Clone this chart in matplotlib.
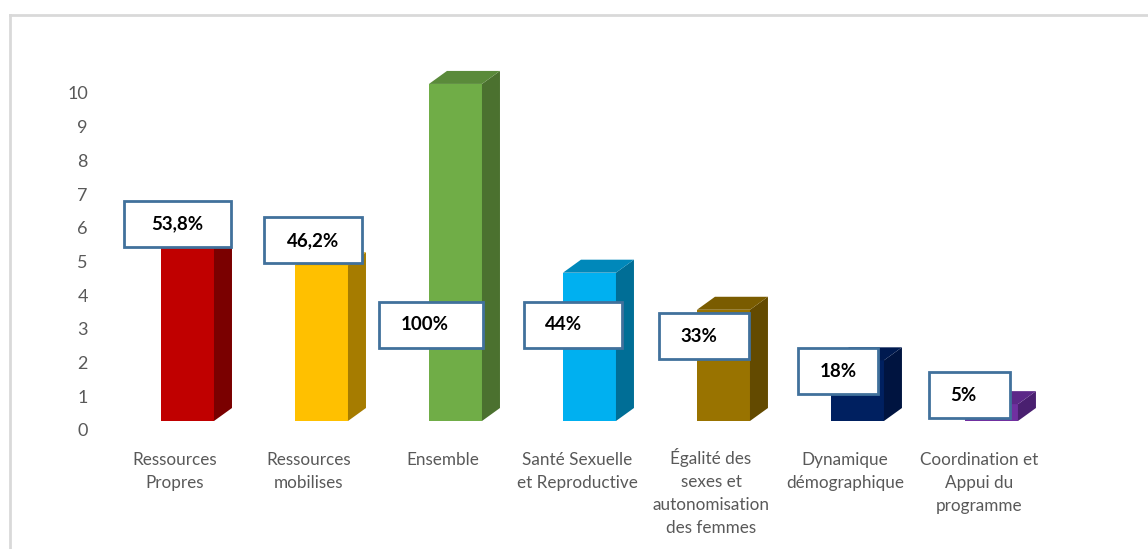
import matplotlib
matplotlib.use("Agg")
import matplotlib.pyplot as plt
from matplotlib.patches import Rectangle, Polygon
from matplotlib.lines import Line2D
from matplotlib.transforms import ScaledTranslation

categories = ['Ressources\nPropres', 'Ressources\nmobilises', 'Ensemble',
              'Santé Sexuelle\net Reproductive',
              'Égalité des\nsexes et\nautonomisation\ndes femmes',
              'Dynamique\ndémographique', 'Coordination et\nAppui du\nprogramme']
values = [5.38, 4.62, 10, 4.4, 3.3, 1.8, 0.5]
labels = ['53,8%', '46,2%', '100%', '44%', '33%', '18%', '5%']

front_colors = ['#C00000', '#FFC000', '#70AD47', '#00B0F0', '#997300', '#002060', '#7030A0']
side_colors = ['#7A0000', '#A67C00', '#4B712F', '#006E96', '#634A00', '#001440', '#4A2070']
top_colors = ['#9A0000', '#D9A300', '#5A8A3A', '#0088BA', '#7A5C00', '#001A50', '#5C2888']

# label box placement (x offset in category units, centre y in value units)
box_dx = [0.02, 0.03, -0.09, -0.03, -0.05, -0.05, -0.07]
box_y = [5.85, 5.36, 2.86, 2.86, 2.52, 1.47, 0.77]
box_w = [0.80, 0.73, 0.78, 0.73, 0.67, 0.60, 0.61]
text_dx = [0, 0, -0.045, -0.067, -0.037, 0, -0.05]

W, H = 1148, 549
fig = plt.figure(figsize=(W / 100, H / 100), dpi=100)
ax = fig.add_axes([110 / W, 128 / H, 1000 / W, 361 / H])
ax.set_xlim(-0.485, 6.978)
ax.set_ylim(0, 10.71)

px_x = 1 / 134.0
px_y = 1 / 33.7
bw = 53 * px_x
dx = 18 * px_x
dy = 13 * px_y

for i, v in enumerate(values):
    x0 = i - 14 * px_x
    ax.add_patch(Rectangle((x0, 0), bw, v, facecolor=front_colors[i], edgecolor='none', zorder=2))
    ax.add_patch(Polygon([(x0 + bw, 0), (x0 + bw + dx, dy), (x0 + bw + dx, v + dy), (x0 + bw, v)],
                         closed=True, facecolor=side_colors[i], edgecolor='none', zorder=2))
    ax.add_patch(Polygon([(x0, v), (x0 + dx, v + dy), (x0 + bw + dx, v + dy), (x0 + bw, v)],
                         closed=True, facecolor=top_colors[i], edgecolor='none', zorder=2))

    cx = i + box_dx[i]
    bh = 46 * px_y
    ax.add_patch(Rectangle((cx - box_w[i] / 2, box_y[i] - bh / 2), box_w[i], bh,
                           facecolor='white', edgecolor='#41719C', linewidth=2, zorder=3))
    ax.text(cx + text_dx[i], box_y[i], labels[i], ha='center', va='center', fontsize=13.5,
            fontweight='bold', family='Lato', color='black', zorder=4)

for side in ['top', 'right', 'left', 'bottom']:
    ax.spines[side].set_visible(False)

ax.set_xticks(range(len(categories)))
ax.set_xticklabels(categories, fontsize=12.3, family='Lato', color='#595959', linespacing=1.55, va='top')
ax.tick_params(axis='x', length=0, pad=22)
for t in ax.get_xticklabels():
    if t.get_text().startswith('É'):
        t.set_transform(t.get_transform() + ScaledTranslation(0, 4 / 100, fig.dpi_scale_trans))

ax.set_yticks(range(0, 11))
ax.tick_params(axis='y', length=0, pad=16, labelsize=13, labelcolor='#595959')
for t in ax.get_yticklabels():
    t.set_family('Lato')
    t.set_transform(t.get_transform() + ScaledTranslation(0, -9 / 100, fig.dpi_scale_trans))

fig.add_artist(Line2D([10 / W, 10 / W], [0, 1 - 15 / H], color='#D9D9D9', linewidth=2))
fig.add_artist(Line2D([10 / W, 1], [1 - 15 / H, 1 - 15 / H], color='#D9D9D9', linewidth=2))

fig.savefig('out.png', dpi=100)
